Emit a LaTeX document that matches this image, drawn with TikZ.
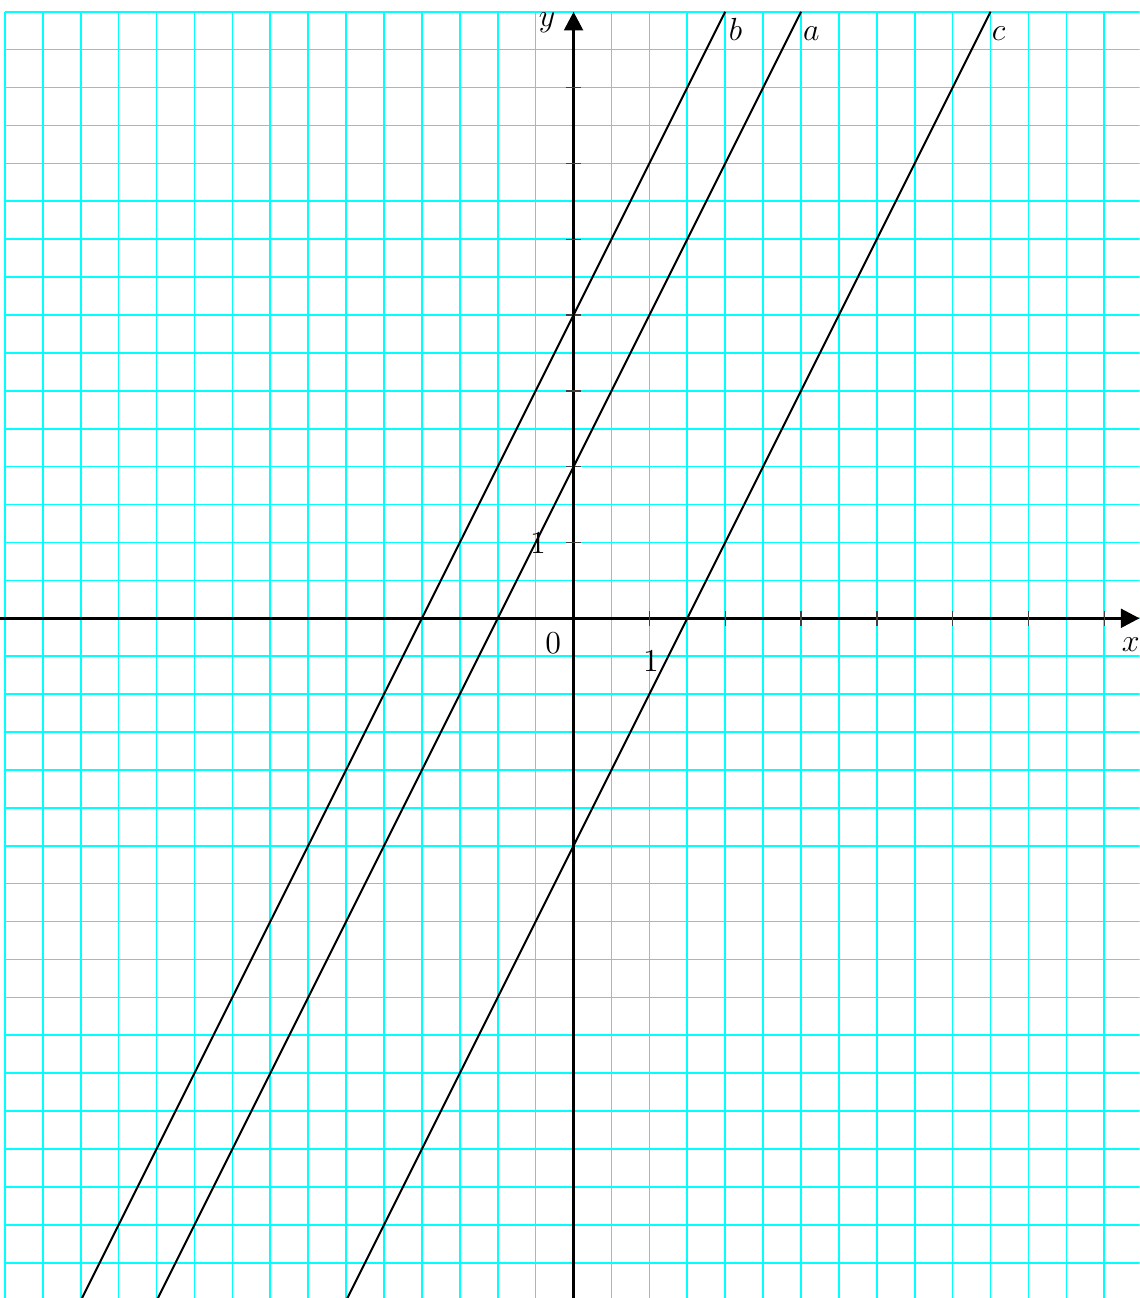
\documentclass[tikz,border=0pt]{standalone}
\usetikzlibrary{arrows.meta}
\definecolor{gridcyan}{RGB}{0,255,255}
\begin{document}
\begin{tikzpicture}[x=1cm,y=1cm,
  gridline/.style={gridcyan, line width=0.6pt},
  axis/.style={line width=1.2pt, -{Triangle[length=7pt,width=7pt]}},
  graph/.style={black, line width=0.75pt},
  tickmark/.style={black!75, line width=0.5pt},
  lab/.style={font=\large, inner sep=0pt}]
\useasboundingbox (-7.565,-8.965) rectangle (7.465,8.155);
\begin{scope}
\clip (-7.565,-8.965) rectangle (7.465,8.155);
\draw[gridline] (-7.5,-9) grid[step=0.5] (7.5,8);
\end{scope}
% axes
\coordinate (xs) at (-7.565,0);
\coordinate (xe) at (7.465,0);
\coordinate (ys) at (0,-8.965);
\coordinate (ye) at (0,8.0);
\draw[axis] (xs) -- (xe);
\draw[axis] (ys) -- (ye);
% ticks
\foreach \i in {1,...,7} {
  \draw[tickmark] (\i,-0.1) -- (\i,0.1);
  \draw[tickmark] (-0.1,\i) -- (0.1,\i);
}
% lines
\coordinate (b1) at (-6.5,-9);
\coordinate (b2) at (2,8);
\coordinate (a1) at (-5.5,-9);
\coordinate (a2) at (3,8);
\coordinate (c1) at (-3,-9);
\coordinate (c2) at (5.5,8);
\draw[graph] (b1) -- (b2);
\draw[graph] (a1) -- (a2);
\draw[graph] (c1) -- (c2);
% labels
\node[lab, anchor=base west] (lb) at (2.04,7.62) {$b$};
\node[lab, anchor=base west] (la) at (3.02,7.62) {$a$};
\node[lab, anchor=base west] (lc) at (5.51,7.62) {$c$};
\node[lab, anchor=base] (ly) at (-0.35,7.8) {$y$};
\node[lab, anchor=base] (lx) at (7.35,-0.44) {$x$};
\node[lab, anchor=base] (l0) at (-0.27,-0.47) {$0$};
\node[lab, anchor=base] (l1x) at (1.02,-0.70) {$1$};
\node[lab, anchor=base] (l1y) at (-0.47,0.85) {$1$};
\end{tikzpicture}
\end{document}
